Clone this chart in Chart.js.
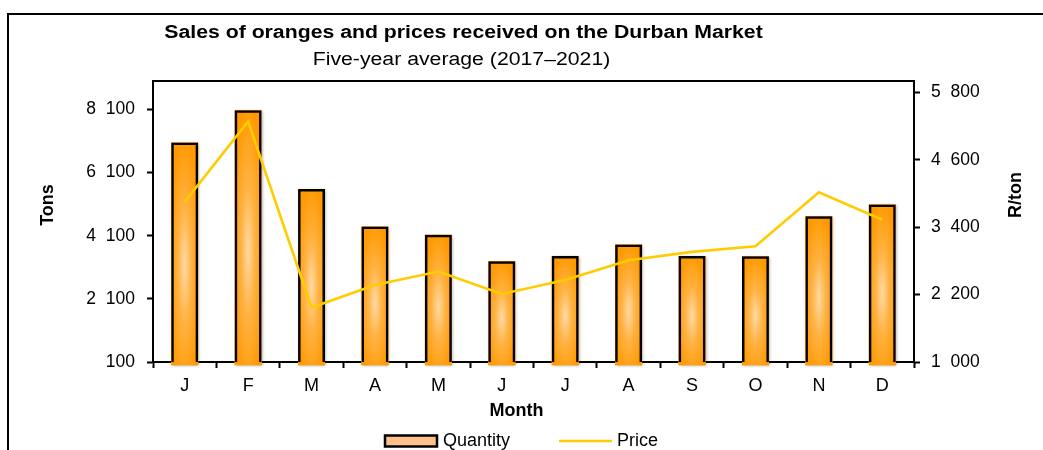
<!DOCTYPE html>
<html><head><meta charset="utf-8">
<script src="https://cdn.jsdelivr.net/npm/chart.js@4.4.1/dist/chart.umd.min.js"></script>
<style>html,body{margin:0;padding:0;background:#fff;}#wrap{width:1043px;height:450px;position:relative;}</style>
</head><body><div id="wrap"><canvas id="c" width="1043" height="450"></canvas></div>
<script>
const months = ['J','F','M','A','M','J','J','A','S','O','N','D'];
const quantityTons = [7050, 8070, 5580, 4390, 4130, 3290, 3460, 3820, 3460, 3450, 4720, 5090];
const priceRandPerTon = [3850, 5280, 1970, 2370, 2610, 2210, 2460, 2810, 2960, 3060, 4020, 3530];
const tonsTicks = [100, 2100, 4100, 6100, 8100];
const priceTicks = [1000, 2200, 3400, 4600, 5800];
const titleText = 'Sales of oranges and prices received on the Durban Market';
const subtitleText = 'Five-year average (2017–2021)';
const xTitle = 'Month', yTitle = 'Tons', y1Title = 'R/ton';

const FAM = '"Liberation Sans", Arial, sans-serif';
function fmt(v){ const s = String(v); return s.length > 3 ? s.slice(0, -3) + '  ' + s.slice(-3) : s; }

const barGradient = {
  id: 'barGradient',
  beforeDatasetDraw(chart, args) {
    if (args.index !== 0) return;
    const ctx = chart.ctx;
    args.meta.data.forEach(bar => {
      const p = bar.getProps(['x','y','base','width'], true);
      const left = p.x - p.width / 2, top = Math.min(p.y, p.base), h = Math.abs(p.base - p.y);
      ctx.save();
      ctx.shadowColor = 'rgba(0,0,0,0.35)'; ctx.shadowBlur = 3; ctx.shadowOffsetX = 1; ctx.shadowOffsetY = 1;
      ctx.fillStyle = '#FF9900';
      ctx.fillRect(left, top, p.width, h);
      ctx.restore();
      ctx.save();
      ctx.beginPath(); ctx.rect(left, top, p.width, h); ctx.clip();
      ctx.translate(p.x, top + h * 0.55);
      ctx.scale(p.width / 2, h / 2);
      const g = ctx.createRadialGradient(0, 0, 0, 0, 0, 1.15);
      g.addColorStop(0, '#FFDAA4');
      g.addColorStop(0.45, '#FFB242');
      g.addColorStop(1, '#FF9900');
      ctx.fillStyle = g;
      ctx.fillRect(-2, -2, 4, 4);
      ctx.restore();
    });
  }
};

const decor = {
  id: 'decor',
  afterDraw(chart) {
    const ctx = chart.ctx, a = chart.chartArea;
    const ds = chart.data.datasets;
    ctx.save();
    ctx.strokeStyle = '#000'; ctx.lineWidth = 2;
    ctx.strokeRect(8, 14, 1200, 600);
    ctx.beginPath(); ctx.moveTo(a.left - 1, a.top); ctx.lineTo(a.right + 1, a.top); ctx.stroke();
    ctx.fillStyle = '#000';
    ctx.textAlign = 'center'; ctx.textBaseline = 'alphabetic';
    ctx.save(); ctx.translate(463.5, 38); ctx.scale(1.18, 1);
    ctx.font = 'bold 18px ' + FAM; ctx.fillText(titleText, 0, 0); ctx.restore();
    ctx.save(); ctx.translate(461.5, 65); ctx.scale(1.18, 1);
    ctx.font = '18px ' + FAM; ctx.fillText(subtitleText, 0, 0); ctx.restore();
    ctx.font = 'bold 18px ' + FAM; ctx.textBaseline = 'middle';
    ctx.fillText(xTitle, 516.5, 411);
    ctx.save(); ctx.translate(48, 205); ctx.rotate(-Math.PI / 2); ctx.fillText(yTitle, 0, 0); ctx.restore();
    ctx.save(); ctx.translate(1016, 195); ctx.rotate(-Math.PI / 2); ctx.fillText(y1Title, 0, 0); ctx.restore();
    // legend
    ctx.font = '18px ' + FAM; ctx.textAlign = 'left'; ctx.textBaseline = 'middle';
    ctx.fillStyle = '#FFC08C'; ctx.fillRect(385, 435.5, 52, 11);
    ctx.strokeStyle = '#000'; ctx.lineWidth = 2.5; ctx.strokeRect(385, 435.5, 52, 11);
    ctx.fillStyle = '#000'; ctx.fillText(ds[0].label, 443, 441.5);
    ctx.strokeStyle = ds[1].borderColor; ctx.lineWidth = 2.5;
    ctx.beginPath(); ctx.moveTo(559, 441); ctx.lineTo(612, 441); ctx.stroke();
    ctx.fillText(ds[1].label, 617, 441.5);
    ctx.restore();
  }
};

Chart.defaults.font.family = FAM;
Chart.defaults.font.size = 17.5;
Chart.defaults.color = '#000';

new Chart(document.getElementById('c'), {
  type: 'bar',
  data: {
    labels: months,
    datasets: [
      { type: 'bar', label: 'Quantity', data: quantityTons, yAxisID: 'y', order: 1,
        backgroundColor: 'rgba(0,0,0,0)', borderColor: '#000', borderWidth: 2.5, borderSkipped: false,
        barPercentage: 0.425, categoryPercentage: 1 },
      { type: 'line', label: 'Price', data: priceRandPerTon, yAxisID: 'y1', order: 0,
        borderColor: '#FFCC00', backgroundColor: '#FFCC00', borderWidth: 2.6, pointRadius: 0, tension: 0, fill: false }
    ]
  },
  options: {
    responsive: false, animation: false, devicePixelRatio: 1,
    layout: { padding: { top: 81, left: 0, right: 0, bottom: 38 } },
    plugins: { title: { display: false }, tooltip: { enabled: false }, legend: { display: false } },
    scales: {
      x: {
        grid: { drawOnChartArea: false, offset: true, tickLength: 6, tickColor: '#000', tickWidth: 2 },
        border: { display: true, color: '#000', width: 2 },
        ticks: { font: { size: 18 }, padding: 7, maxRotation: 0 },
        afterFit(s) { s.height = 50; }
      },
      y: {
        position: 'left', min: 100, max: 9000,
        afterBuildTicks(s) { s.ticks = tonsTicks.map(v => ({ value: v })); },
        grid: { drawOnChartArea: false, tickLength: 6, tickColor: '#000', tickWidth: 2 },
        border: { display: true, color: '#000', width: 2 },
        ticks: { padding: 12, callback: v => fmt(v) },
        afterFit(s) { s.width = 153; }
      },
      y1: {
        position: 'right', min: 1000, max: 6000,
        afterBuildTicks(s) { s.ticks = priceTicks.map(v => ({ value: v })); },
        grid: { drawOnChartArea: false, tickLength: 6, tickColor: '#000', tickWidth: 2 },
        border: { display: true, color: '#000', width: 2 },
        ticks: { padding: 11, callback: v => fmt(v) },
        afterFit(s) { s.width = 129; }
      }
    }
  },
  plugins: [barGradient, decor]
});
</script></body></html>
